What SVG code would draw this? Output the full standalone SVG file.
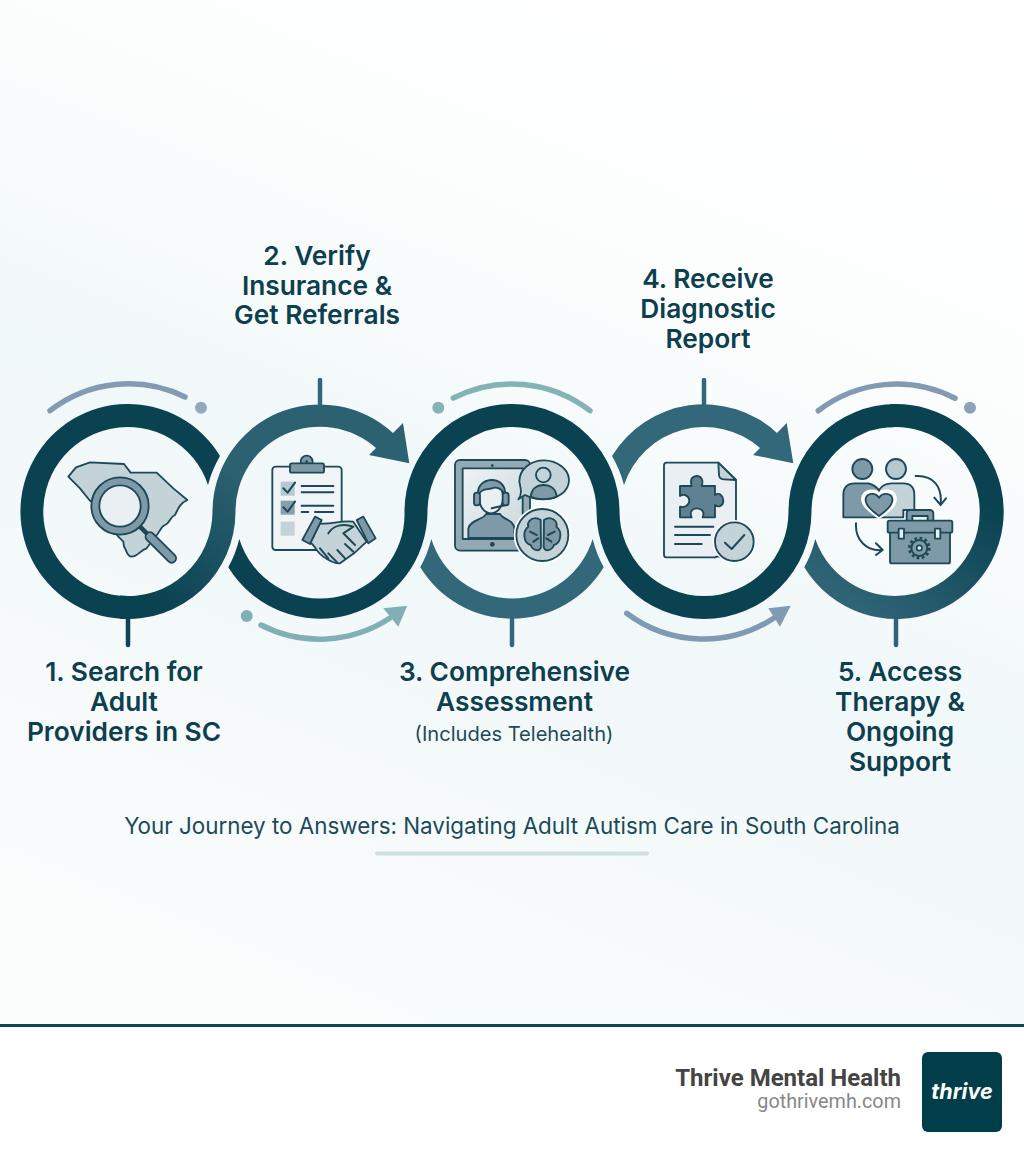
<svg xmlns="http://www.w3.org/2000/svg" width="1024" height="1154" viewBox="0 0 1024 1154">
<defs>
<linearGradient id="bg" gradientUnits="userSpaceOnUse" x1="720" y1="0" x2="300" y2="1024"><stop offset="0" stop-color="#ffffff"/><stop offset=".28" stop-color="#fbfdfd"/><stop offset=".52" stop-color="#f1f8f9"/><stop offset=".72" stop-color="#f4f9fa"/><stop offset="1" stop-color="#fbfdfd"/></linearGradient>
<linearGradient id="g1" gradientUnits="userSpaceOnUse" x1="150" y1="600" x2="250" y2="480"><stop offset="0" stop-color="#0a4252"/><stop offset="1" stop-color="#2c6172"/></linearGradient>
<linearGradient id="g2" gradientUnits="userSpaceOnUse" x1="960" y1="480" x2="860" y2="610"><stop offset="0" stop-color="#0a4252"/><stop offset="1" stop-color="#2f6476"/></linearGradient>
<linearGradient id="screen" x1="0" y1="0" x2="1" y2="1"><stop offset="0" stop-color="#eef3f5"/><stop offset="1" stop-color="#cbd8dd"/></linearGradient>
</defs>
<style>
.lab{font-family:"Inter","Liberation Sans",sans-serif;font-weight:600;font-size:26.3px;fill:#0e3f4e;text-anchor:middle}
.sub{font-family:"Inter","Liberation Sans",sans-serif;font-size:20.1px;fill:#1d4a58;text-anchor:middle}
.dark{fill:#0a4252}.mid{fill:#33687a}
.tick{stroke-width:4.5;stroke-linecap:round;fill:none}
.deco{stroke-width:5.5;stroke-linecap:round;fill:none}
.o{stroke:#1d4857;stroke-width:5.5;stroke-linecap:round;stroke-linejoin:round}
.l{fill:none;stroke:#1d4857;stroke-width:6;stroke-linecap:round;stroke-linejoin:round}
.fl{fill:#c3d3d8}.fm{fill:#7e99a8}.fp{fill:#e9eff2}.fd{fill:#5f8191}
</style>
<rect width="1024" height="1154" fill="url(#bg)"/>
<g id="connectors">
<line class="tick" x1="128" y1="619" x2="128" y2="645" stroke="#0f4655"/>
<line class="tick" x1="320" y1="380" x2="320" y2="404" stroke="#33687a"/>
<line class="tick" x1="512" y1="619" x2="512" y2="645" stroke="#33687a"/>
<line class="tick" x1="704" y1="380" x2="704" y2="404" stroke="#33687a"/>
<line class="tick" x1="896" y1="619" x2="896" y2="645" stroke="#2f6476"/>
<path class="dark" d="M220,456A107.5,107.5 0 1 0 128,619L128,596A84.5,84.5 0 1 1 208,485A115,115 0 0 1 220,456Z"/>
<path fill="url(#g1)" d="M120,618.7A107.5,107.5 0 0 0 235.5,511.5A84.5,84.5 0 0 1 376,448L369,455L409.3,463.3L403,423L393,433A107.5,107.5 0 0 0 212.5,511.5A84.5,84.5 0 0 1 120,595.6Z"/>
<path class="dark" d="M228.3,567.3A107.5,107.5 0 0 0 427.5,511.5A84.5,84.5 0 0 1 596.5,511.5A107.5,107.5 0 0 0 811.5,511.5A84.5,84.5 0 0 1 896,427L896,404A107.5,107.5 0 0 0 788.5,511.5A84.5,84.5 0 0 1 619.5,511.5A107.5,107.5 0 0 0 404.5,511.5A84.5,84.5 0 0 1 239.3,539A115,115 0 0 1 228.3,567.3Z"/>
<path fill="url(#g2)" d="M890,404.2A107.5,107.5 0 1 1 804.3,567.3A115,115 0 0 0 815.3,539A84.5,84.5 0 1 0 890,427.2Z"/>
<path class="mid" d="M420.3,567.3A107.5,107.5 0 0 0 603.7,567.3A115,115 0 0 1 592.7,539A84.5,84.5 0 0 1 431.3,539A115,115 0 0 1 420.3,567.3Z"/>
<path class="mid" d="M612,456A107.5,107.5 0 0 1 777,433L786.7,423L793.3,463.3L753,455L760,448A84.5,84.5 0 0 0 624,485A115,115 0 0 0 612,456Z"/>
<path class="deco" stroke="#829bb2" d="M50,410.7A128,128 0 0 1 185,397"/>
<circle cx="201" cy="407.7" r="6" fill="#94a9bf"/>
<path class="deco" stroke="#85b2b5" d="M453.3,398A128,128 0 0 1 590,410.7"/>
<circle cx="438.3" cy="407.7" r="6" fill="#85b2b5"/>
<path class="deco" stroke="#829bb2" d="M818.3,410.7A128,128 0 0 1 955,398.3"/>
<circle cx="970" cy="407.7" r="6" fill="#8ba2ba"/>
<path class="deco" stroke="#80b0b5" d="M261,625A128,128 0 0 0 390,618"/>
<path fill="#80b0b5" d="M407.3,605.7L383.3,608.3L398.3,626.7Z"/>
<circle cx="246.7" cy="616" r="6" fill="#80b0b5"/>
<path class="deco" stroke="#7f9ab3" d="M626.7,613.3A128,128 0 0 0 774,618"/>
<path fill="#7f9ab3" d="M790.7,605.7L768.3,608.3L780,626.7Z"/>
</g>
<g id="step1">
<g transform="translate(0,360) scale(.33333)">
<path class="fl o" d="M205,350L228,322L270,307L372,312L392,338L470,338L520,385L562,420C540,430 535,445 525,465C510,470 510,490 495,495C480,500 480,520 465,530L440,565C420,570 415,590 395,590C380,590 380,570 372,560L370,545L355,530L290,440L268,420L240,385Z"/>
<line x1="420" y1="500" x2="450" y2="530" stroke="#1d4857" stroke-width="14"/>
<line x1="450" y1="530" x2="515" y2="595" stroke="#1d4857" stroke-width="32" stroke-linecap="round"/>
<line x1="450" y1="530" x2="515" y2="595" stroke="#7e99a8" stroke-width="21" stroke-linecap="round"/>
<circle class="fm o" cx="360" cy="438" r="86"/>
<circle class="fp o" cx="360" cy="438" r="62"/>
</g>
<text class="lab" x="124" y="681">1. Search for</text>
<text class="lab" x="124" y="711">Adult</text>
<text class="lab" x="124" y="741">Providers in SC</text>
</g>
<g id="step2">
<g transform="translate(0,360) scale(.33333)">
<rect class="o" x="817" y="320" width="208" height="250" rx="10" fill="#f0f4f6"/>
<circle class="fm o" cx="920" cy="305" r="18"/>
<rect class="fm o" x="870" y="310" width="102" height="28" rx="5"/>
<circle cx="920" cy="305" r="4" fill="#1d4857"/>
<rect x="842" y="365" width="42" height="42" fill="#b5c8cf"/>
<rect x="842" y="422" width="42" height="42" fill="#85a0ac"/>
<rect x="842" y="485" width="42" height="42" fill="#c5d3d8"/>
<path class="l" d="M850,385L863,398L885,368M850,442L863,455L885,425M905,378H1000M905,397H1000M905,437H1000M905,456H925M945,456H1000"/>
<path class="fl o" d="M960,490C990,495 1020,480 1060,485L1100,545L1062,580L1020,610C1000,612 960,590 945,562L930,545Z"/>
<path class="l" d="M985,520C1000,495 1030,490 1060,500L1030,520L1065,555M1060,575L1035,552M1035,595L1012,570M1012,608L985,580M985,595L960,565"/>
<path class="fm o" d="M945,470L965,480L930,552L907,540ZM1070,480L1090,470L1127,535L1105,550Z"/>
</g>
<text class="lab" x="317" y="265">2. Verify</text>
<text class="lab" x="317" y="294.5">Insurance &amp;</text>
<text class="lab" x="317" y="324">Get Referrals</text>
</g>
<g id="step3">
<g transform="translate(400,360) scale(.33333)">
<rect class="o" x="165" y="300" width="225" height="272" rx="15" fill="#93a9b4"/>
<rect class="o" x="188" y="325" width="180" height="212" fill="url(#screen)" stroke-width="4"/>
<circle cx="277" cy="317" r="4" fill="#1d4857"/>
<circle cx="277" cy="553" r="7" fill="#1d4857"/>
<path class="fm o" d="M205,534V505C210,480 250,480 258,462L300,462C310,480 340,478 343,505V534Z"/>
<ellipse class="fp o" cx="273" cy="412" rx="36" ry="48"/>
<path class="fm o" d="M235,405C225,350 320,340 315,405C305,385 290,380 275,385C260,390 245,385 235,405Z"/>
<path class="l" d="M275,445L318,435"/>
<rect class="fm o" x="222" y="398" width="18" height="38" rx="8"/>
<rect class="fm o" x="308" y="398" width="18" height="38" rx="8"/>
<path class="fl o" d="M355,418C368,402 362,385 358,365C358,325 395,301 432,301C472,301 507,328 507,360C507,395 472,418 430,418C405,418 385,410 375,405Z"/>
<path class="fm o" d="M392,410C395,385 412,375 430,375C450,375 468,385 470,410C450,420 410,420 392,410Z"/>
<circle class="fl o" cx="430" cy="345" r="22"/>
<circle cx="427" cy="525" r="86" fill="#fff"/>
<circle class="fl o" cx="427" cy="525" r="78"/>
<path class="fm o" d="M422,480C400,465 380,485 385,500C365,515 372,550 392,555C400,575 422,575 423,560ZM432,480C454,465 474,485 469,500C489,515 482,550 462,555C454,575 432,575 431,560Z"/>
<path class="l" d="M390,515L410,525M400,545L415,535M464,515L444,525M454,545L439,535" stroke-width="4"/>
</g>
<text class="lab" x="514.5" y="681">3. Comprehensive</text>
<text class="lab" x="514.5" y="711">Assessment</text>
<text class="sub" x="514" y="741">(Includes Telehealth)</text>
</g>
<g id="step4">
<g transform="translate(400,360) scale(.33333)">
<path class="o" fill="#e9eff2" d="M948,592H800Q792,592 792,584V316Q792,308 800,308H955L1008,360V590H948Z"/>
<path class="fl o" d="M955,308L957,345Q958,358 972,358L1008,360Z"/>
<path class="fd o" d="M840,378H875C868,355 880,348 890,348C902,348 912,358 905,378H945V405C960,395 970,410 970,422C970,435 958,445 945,435V472H908C915,455 905,445 890,445C875,445 868,458 875,472H840V440C852,445 868,435 868,422C868,408 852,400 840,408Z"/>
<path class="l" d="M825,500H940M825,525H930M825,552H905"/>
<circle cx="1003" cy="545" r="65" fill="#fff"/>
<circle class="fl o" cx="1003" cy="545" r="58"/>
<path class="l" d="M975,548L995,567L1033,525"/>
</g>
<text class="lab" x="708" y="288">4. Receive</text>
<text class="lab" x="708" y="318">Diagnostic</text>
<text class="lab" x="708" y="348">Report</text>
</g>
<g id="step5">
<g transform="translate(780,370) scale(.33333)">
<circle class="fm o" cx="247" cy="297" r="30"/>
<circle class="o" cx="348" cy="297" r="30" fill="#b5c8cf"/>
<path class="fm o" d="M190,442V375Q190,340 225,340H265Q285,345 297,360V442Z"/>
<path class="fl o" d="M297,360Q310,340 335,340H370Q403,340 403,375V420H370V442H297Z"/>
<path d="M297,438C265,415 250,400 252,385C255,365 285,360 297,378C310,360 340,365 342,385C344,400 330,415 297,438Z" fill="#7e99a8" stroke="#fff" stroke-width="17" stroke-linejoin="round"/>
<path class="fm o" d="M297,438C265,415 255,400 257,387C260,370 285,365 297,383C310,365 335,370 337,387C339,400 330,415 297,438Z"/>
<path class="l" d="M407,318C460,315 487,350 482,403M463,383L482,405L498,385M228,460C225,510 260,545 307,540M288,520L308,540L288,555"/>
<rect class="fm o" x="380" y="420" width="80" height="40" rx="10"/>
<rect class="fp o" x="397" y="438" width="46" height="18" stroke-width="4"/>
<rect class="fm o" x="330" y="485" width="180" height="95" rx="5"/>
<rect class="fm o" x="323" y="452" width="194" height="36" rx="5"/>
<rect class="fp o" x="356" y="476" width="16" height="30" stroke-width="4"/>
<rect class="fp o" x="465" y="476" width="16" height="30" stroke-width="4"/>
<circle cx="418" cy="534" r="24" fill="none" stroke="#1d4857" stroke-width="6"/>
<circle cx="418" cy="534" r="30" fill="none" stroke="#1d4857" stroke-width="8" stroke-dasharray="8 7.7"/>
<circle cx="418" cy="534" r="8" fill="#e9eff2" stroke="#1d4857" stroke-width="5"/>
</g>
<text class="lab" x="900" y="681">5. Access</text>
<text class="lab" x="900" y="711">Therapy &amp;</text>
<text class="lab" x="900" y="741">Ongoing</text>
<text class="lab" x="900" y="771">Support</text>
</g>
<g id="caption">
<text x="512" y="834" text-anchor="middle" font-family="Inter,'Liberation Sans',sans-serif" font-size="22.4" fill="#1d4a58">Your Journey to Answers: Navigating Adult Autism Care in South Carolina</text>
<rect x="375" y="851.5" width="274" height="4" rx="2" fill="#cfdfe2"/>
</g>
<g id="footer">
<rect y="1024" width="1024" height="130" fill="#fff"/>
<rect y="1024" width="1024" height="3" fill="#0d4552"/>
<text x="901" y="1086" text-anchor="end" font-family="Roboto,'Liberation Sans',sans-serif" font-weight="700" font-size="24" fill="#444">Thrive Mental Health</text>
<text x="901" y="1108" text-anchor="end" font-family="Roboto,'Liberation Sans',sans-serif" font-size="19.8" fill="#888">gothrivemh.com</text>
<rect x="922" y="1052" width="80" height="80" rx="6" fill="#023d4a"/>
<text x="962" y="1099" text-anchor="middle" font-family="Inter,'Liberation Sans',sans-serif" font-weight="700" font-style="italic" font-size="21.5" fill="#fff">thrive</text>
</g>
</svg>
